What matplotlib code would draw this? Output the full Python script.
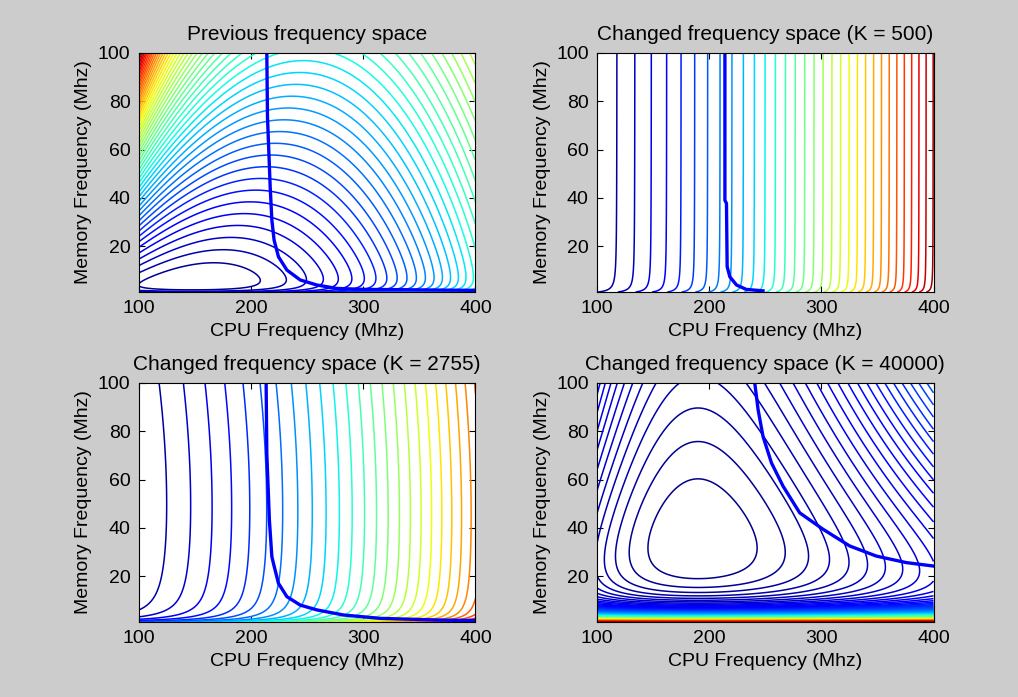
import numpy as np
import matplotlib.pyplot as plt

plt.rcParams['font.family'] = ['Liberation Sans', 'DejaVu Sans']

# axes
cpu_ticks = [100, 200, 300, 400]
mem_ticks = [20, 40, 60, 80, 100]
titles = ['Previous frequency space',
          'Changed frequency space (K = 500)',
          'Changed frequency space (K = 2755)',
          'Changed frequency space (K = 40000)']

# thick bound curves (cpu MHz, memory MHz)
bound1_cpu = [214, 214.6, 217, 218.5, 220.5, 224.4, 231.9, 243.8, 258.7, 276.5, 300.3, 330.1, 368.8, 400]
bound1_mem = [100, 73.6, 44.6, 30.8, 22.5, 15.6, 10.1, 6.0, 3.9, 2.5, 2.1, 2.0, 1.8, 1.7]
bound2_cpu = [214, 214, 215.4, 216, 218.4, 224.4, 233, 248]
bound2_mem = [100, 39, 37.7, 11.5, 7.3, 3.9, 2.1, 1.5]
bound3_cpu = [213.4, 214, 216.3, 218.5, 219.9, 224.4, 231.9, 243.8, 258.7, 282.4, 315.2, 368.8, 400]
bound3_mem = [100, 70.9, 43.2, 28.1, 25.3, 17, 11.5, 8.0, 6.0, 3.9, 2.5, 1.8, 1.6]
bound4_cpu = [240.6, 243.6, 248, 255.5, 265.9, 280.7, 301.5, 325.2, 349, 375.7, 399.4]
bound4_mem = [100, 88.9, 77.8, 66.9, 57.2, 46.2, 39.4, 32.5, 28.3, 25.6, 24.2]

# number of contour levels per panel
n_levels = [50, 32, 29, 110]

# grid
cpu = np.linspace(100, 400, 301)
mem = np.linspace(1, 100, 300)
C, M = np.meshgrid(cpu, mem)
u = (C - 100) / 300.0
uL = (C - 100) / 270.0
v = (M - 1) / 99.0

# cost surfaces (model shapes fitted by eye)
Z1 = 0.18 * v ** 1.25 / (uL + 0.2) + 0.42 * (uL - 0.17) ** 2 + 0.08 * v + 0.00088 / (v + 0.01)
Z2 = u + u ** 2 + 0.06 * 0.01 / (v + 0.01)
Z3 = uL + uL ** 2 + 0.035 * (1 + uL) * ((v - 0.35) / 0.65) ** 2 + 0.65 * 0.01 / (v + 0.01)
Z4 = ((0.54 + 1.0 * v) * np.log((C + 100) / 290.0) ** 2 + 0.207 * v
      + 0.0255 / (v + 0.02) + 1.37 * np.exp(-v / 0.025))

fields = [Z1, Z2, Z3, Z4]
bounds = [(bound1_cpu, bound1_mem), (bound2_cpu, bound2_mem),
          (bound3_cpu, bound3_mem), (bound4_cpu, bound4_mem)]

fig = plt.figure(figsize=(10.18, 6.97), dpi=100, facecolor='#cccccc')
rects = [[0.1365, 0.581, 0.3305, 0.343],
         [0.5865, 0.581, 0.3305, 0.343],
         [0.1365, 0.1076, 0.3305, 0.343],
         [0.5865, 0.1076, 0.3305, 0.343]]

for i in range(4):
    ax = fig.add_axes(rects[i])
    Z = fields[i]
    lev = np.linspace(Z.min(), Z.max(), n_levels[i] + 2)[1:-1]
    ax.contour(C, M, Z, levels=lev, cmap='jet', vmin=Z.min(), vmax=Z.max(),
               linewidths=1.1)
    ax.plot(bounds[i][0], bounds[i][1], color='blue', lw=2.4)
    ax.set_xlim(100, 400)
    ax.set_ylim(1, 100)
    ax.set_xticks(cpu_ticks)
    ax.set_yticks(mem_ticks)
    ax.tick_params(direction='in', top=True, right=True, length=4,
                   labelsize=14, pad=6)
    ax.set_title(titles[i], fontsize=15, pad=9)
    ax.set_xlabel('CPU Frequency (Mhz)', fontsize=14)
    ax.set_ylabel('Memory Frequency (Mhz)', fontsize=14)

fig.savefig('out.png', dpi=100, facecolor=fig.get_facecolor())
